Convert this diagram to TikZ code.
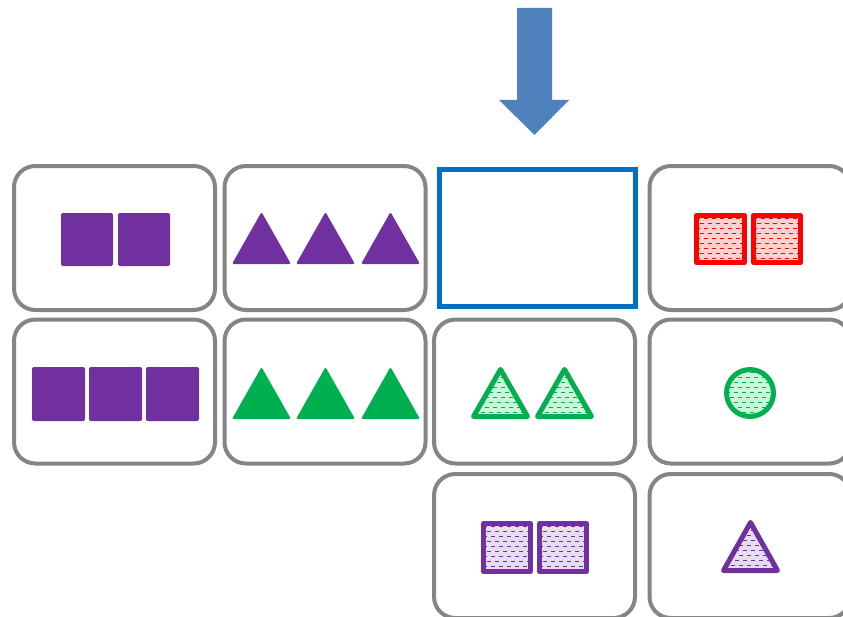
\documentclass[tikz,border=0pt]{standalone}
\definecolor{cgray}{HTML}{858585}
\definecolor{cblue}{HTML}{0070C0}
\definecolor{carrow}{HTML}{4F81BD}
\definecolor{cpurple}{HTML}{7030A0}
\definecolor{cgreen}{HTML}{00B050}
\definecolor{cred}{HTML}{FF0000}
\definecolor{redlight}{HTML}{FFD0D0}
\definecolor{greenlight}{HTML}{C8F7DA}
\definecolor{purplelight}{HTML}{E6DEF0}
\tikzset{
  cell/.style={draw=cgray, line width=3pt, rounded corners=16pt, minimum width=150.75pt, minimum height=108pt, inner sep=0pt, fill=white},
  target/.style={draw=cblue, line width=3.75pt, minimum width=147pt, minimum height=102.75pt, inner sep=0pt},
  solid shape/.style={fill=#1, rounded corners=1.5pt},
  hatchdash/.style={draw=#1, line width=0.75pt, dash pattern=on 3pt off 3pt},
  hatchedge/.style={draw=#1, line width=3.75pt, line join=round},
}
% #1 path, #2 line colour, #3 fill colour, #4-#7 extent x1,y1,x2,y2
\newcommand\hatchshape[7]{%
  \fill[#3] #1;
  \begin{scope}
    \clip #1;
    \foreach \i in {0,...,11}{%
      \pgfmathsetmacro\ph{mod(\i,2)*3}%
      \draw[hatchdash=#2, dash phase=\ph pt] (#4,#5+3+5*\i) -- (#6,#5+3+5*\i);
    }
  \end{scope}
  \draw[hatchedge=#2] #1;
}
\begin{document}
\begin{tikzpicture}[x=0.75pt,y=-0.75pt]
\useasboundingbox (0,0) rectangle (843,617);
\clip (0,0) rectangle (843,617);
% cells
\node[cell] (c11) at (114.5,238) {};
\node[cell] (c12) at (325,238) {};
\node[target] (c13) at (537.5,238) {};
\node[cell] (c14) at (750,238) {};
\node[cell] (c21) at (114.5,391.5) {};
\node[cell] (c22) at (325,391.5) {};
\node[cell] (c23) at (534.5,391.5) {};
\node[cell] (c24) at (750,391.5) {};
\node[cell] (c33) at (534.5,546) {};
\node[cell] (c34) at (750,546) {};
% arrow
\coordinate (arrowtip) at (534.5,135);
\fill[carrow] (517,8) -- (552,8) -- (552,100) -- (569,100) -- (arrowtip) -- (499,100) -- (517,100) -- cycle;
% row 1
\fill[solid shape=cpurple] (61,213) rectangle (113,266);
\fill[solid shape=cpurple] (118,213) rectangle (170,266);
\foreach \xx in {232,296,361}
  \fill[solid shape=cpurple] (\xx,264) -- (\xx+59,264) -- (\xx+29.5,212) -- cycle;
\hatchshape{(696.5,215.5) rectangle (744.5,262.5)}{cred}{redlight}{696}{215}{745}{263}
\hatchshape{(753.5,215.5) rectangle (800.5,262.5)}{cred}{redlight}{753}{215}{801}{263}
% row 2
\foreach \xx in {32,89,146}
  \fill[solid shape=cpurple] (\xx,367) rectangle (\xx+53,421);
\foreach \xx in {232,296,361}
  \fill[solid shape=cgreen] (\xx,419) -- (\xx+59,419) -- (\xx+29.5,367) -- cycle;
\hatchshape{(473.5,416.5) -- (527.5,416.5) -- (500.5,369.5) -- cycle}{cgreen}{greenlight}{473}{369}{528}{417}
\hatchshape{(537.5,416.5) -- (591.5,416.5) -- (564.5,369.5) -- cycle}{cgreen}{greenlight}{537}{369}{592}{417}
\hatchshape{(750,393) circle[radius=17.6pt]}{cgreen}{greenlight}{726}{369}{774}{417}
% row 3
\hatchshape{(483.5,523.5) rectangle (530.5,571.5)}{cpurple}{purplelight}{483}{523}{531}{572}
\hatchshape{(539.5,523.5) rectangle (586.5,571.5)}{cpurple}{purplelight}{539}{523}{587}{572}
\hatchshape{(723.5,570.5) -- (777.5,570.5) -- (750.5,522.5) -- cycle}{cpurple}{purplelight}{723}{522}{778}{571}
\end{tikzpicture}
\end{document}
